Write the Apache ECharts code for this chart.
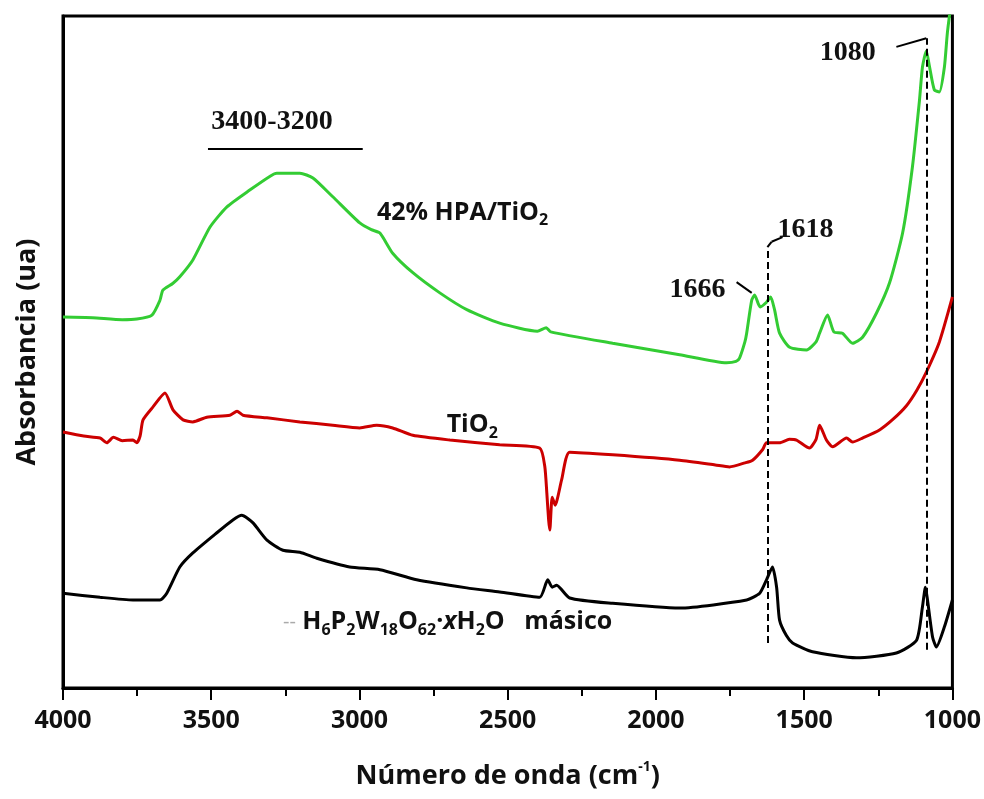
<!DOCTYPE html>
<html>
<head>
<meta charset="utf-8">
<script src="https://cdn.jsdelivr.net/npm/echarts@6/dist/echarts.min.js"></script>
<style>
  html, body { margin: 0; padding: 0; background: #fff; }
  #main { width: 984px; height: 799px; }
</style>
</head>
<body>
<div id="main"></div>
<script>
// [wavenumber cm-1, absorbance (arbitrary, 0-100 of the frame height)]
var hpaTiO2 = [[4000,55.2],[3900,55.1],[3800,54.8],[3751,54.9],[3700,55.5],[3673,57.7],[3663,59.2],[3630,60.2],[3606,61.2],[3562,63.7],[3504,68.6],[3447,71.6],[3370,74.1],[3300,76.2],[3279,76.6],[3201,76.6],[3157,75.9],[3090,73.1],[2999,69.2],[2960,68.2],[2931,67.7],[2888,64.7],[2820,61.8],[2729,58.8],[2638,56.3],[2527,54.3],[2400,53.1],[2370,53.6],[2355,53.0],[2146,51.3],[1920,49.6],[1762,48.4],[1730,48.6],[1718,49.1],[1700,51.5],[1694,52.8],[1677,57.7],[1667,58.5],[1655,57.2],[1648,56.7],[1627,57.4],[1613,58.2],[1600,56.3],[1583,52.8],[1549,50.7],[1492,50.3],[1460,51.5],[1448,52.8],[1421,55.5],[1400,53.0],[1371,52.8],[1337,51.3],[1303,52.2],[1256,55.8],[1212,60.3],[1168,67.7],[1135,77.5],[1111,87.5],[1101,92.4],[1088,94.8],[1077,92.4],[1061,89.0],[1044,88.7],[1027,92.4],[1017,97.5],[1003,102.4]];

var tio2 = [[4000,38.1],[3930,37.5],[3875,37.2],[3852,36.5],[3830,37.3],[3800,36.8],[3764,36.9],[3751,36.5],[3740,37.5],[3730,39.9],[3697,41.8],[3656,43.9],[3629,41.4],[3595,39.9],[3562,39.6],[3515,40.3],[3437,40.6],[3413,41.2],[3393,40.6],[3312,40.2],[3201,39.6],[3090,39.1],[2999,38.7],[2942,39.1],[2888,38.7],[2820,37.6],[2695,36.9],[2527,36.2],[2392,35.7],[2375,33.0],[2368,29.0],[2362,25.0],[2358,23.5],[2350,28.4],[2340,27.2],[2318,31.0],[2291,35.1],[2146,34.7],[1920,33.9],[1800,33.2],[1752,32.9],[1700,33.5],[1674,33.9],[1640,35.5],[1627,36.5],[1583,36.5],[1550,37.0],[1526,36.9],[1482,35.7],[1460,37.0],[1448,39.1],[1425,36.9],[1404,35.9],[1357,37.2],[1337,36.6],[1303,37.2],[1246,38.4],[1200,40.0],[1155,42.0],[1120,44.3],[1088,47.0],[1044,51.5],[1000,58.2]];

var hpaBulk = [[4000,14.1],[3875,13.5],[3764,13.1],[3673,13.1],[3650,14.1],[3606,18.0],[3562,20.1],[3481,23.1],[3427,25.0],[3397,25.7],[3360,24.6],[3312,22.0],[3258,20.5],[3201,20.2],[3144,19.3],[3033,18.0],[2931,17.6],[2807,16.1],[2638,14.9],[2527,14.3],[2392,13.5],[2365,16.1],[2350,15.0],[2335,15.3],[2291,13.4],[2146,12.6],[1920,11.9],[1694,13.1],[1650,14.1],[1627,16.1],[1607,18.0],[1593,15.0],[1583,10.1],[1560,7.8],[1539,6.7],[1472,5.4],[1324,4.5],[1189,5.2],[1121,7.1],[1101,12.1],[1091,15.0],[1084,13.1],[1067,7.6],[1054,6.1],[1027,9.1],[1000,13.1]];

var xTicks = [4000, 3500, 3000, 2500, 2000, 1500, 1000];

// dashed guide lines: [wavenumber, from, to]
var dashedGuides = [[1624, 6.7, 65.6], [1088, 5.7, 96.7]];
// solid leader segments and the band bar
var leaders = [
  [[1728, 60.4], [1677, 58.8]],
  [[1624, 65.6], [1610, 66.4]],
  [[1610, 66.4], [1573, 67.1]],
  [[1088, 96.7], [1189, 95.4]],
  [[3511, 80.2], [2989, 80.2]]
];
// peak labels: text, anchor [wavenumber, value], align
var peakLabels = [
  ['3400-3200', [3295, 84.2], 'center'],
  ['1666', [1765, 59.2], 'right'],
  ['1618', [1590, 68.2], 'left'],
  ['1080', [1259, 94.6], 'right']
];
var seriesLabels = [
  ['{a|42% HPA/TiO}{s|2}', [2941, 70.7]],
  ['{a|TiO}{s|2}', [2706, 39.1]],
  ['{g|--}{a| H}{s|6}{a|P}{s|2}{a|W}{s|18}{a|O}{s|62}{a|·}{i|x}{a|H}{s|2}{a|O   másico}', [3258, 9.8]]
];

var sans = '"Open Sans", "Liberation Sans", sans-serif';
var serif = '"Liberation Serif", "DejaVu Serif", serif';

var chart = echarts.init(document.getElementById('main'));

var guideData = dashedGuides.map(function (g) {
  return [{ coord: [g[0], g[1]] }, { coord: [g[0], g[2]] }];
});
var leaderData = leaders.map(function (s) {
  return [{ coord: s[0] }, { coord: s[1] }];
});

option = {
  animation: false,
  backgroundColor: '#fff',
  grid: {
    left: 63, right: 31, top: 16, bottom: 111,
    show: true, borderColor: '#000', borderWidth: 3
  },
  xAxis: {
    type: 'value',
    inverse: true,
    min: 1000, max: 4000, interval: 500,
    name: '{a|Número de onda (cm}{u|-1}{a|)}',
    nameLocation: 'middle',
    nameGap: 72,
    nameTextStyle: {
      rich: {
        a: { fontFamily: sans, fontWeight: 'bold', fontSize: 27, color: '#111', lineHeight: 32 },
        u: { fontFamily: sans, fontWeight: 'bold', fontSize: 14, color: '#111', lineHeight: 16, verticalAlign: 'top' }
      }
    },
    axisLine: { show: true, lineStyle: { color: '#000', width: 3 } },
    axisTick: { show: true, inside: false, length: 12, lineStyle: { width: 2, color: '#000' } },
    minorTick: { show: true, splitNumber: 2, length: 8, lineStyle: { width: 2, color: '#000' } },
    splitLine: { show: false },
    axisLabel: {
      margin: 20,
      fontFamily: sans, fontWeight: 'bold', fontSize: 25, color: '#111',
      formatter: function (v) { return xTicks.indexOf(v) >= 0 ? String(v) : ''; }
    }
  },
  yAxis: {
    type: 'value',
    min: 0, max: 100,
    name: 'Absorbancia (ua)',
    nameLocation: 'middle',
    nameGap: 22,
    nameRotate: 90,
    nameTextStyle: { fontFamily: sans, fontWeight: 'bold', fontSize: 27, color: '#111' },
    axisLine: { show: true, lineStyle: { color: '#000', width: 3 } },
    axisTick: { show: false },
    axisLabel: { show: false },
    splitLine: { show: false }
  },
  series: [
    {
      name: 'H6P2W18O62 másico', type: 'line', data: hpaBulk,
      showSymbol: false, smooth: 0.2,
      lineStyle: { color: '#000', width: 3 },
      markLine: {
        silent: true, symbol: 'none', label: { show: false },
        lineStyle: { color: '#000', width: 2, type: [7, 4] },
        data: guideData
      }
    },
    {
      name: 'TiO2', type: 'line', data: tio2,
      showSymbol: false, smooth: 0.2,
      lineStyle: { color: '#cc0000', width: 3 },
      markLine: {
        silent: true, symbol: 'none', label: { show: false },
        lineStyle: { color: '#000', width: 2, type: 'solid' },
        data: leaderData
      }
    },
    {
      name: '42% HPA/TiO2', type: 'line', data: hpaTiO2,
      showSymbol: false, smooth: 0.2,
      lineStyle: { color: '#33cc33', width: 3 }
    }
  ]
};

chart.setOption(option);

var richSans = {
  a: { fontFamily: sans, fontWeight: 'bold', fontSize: 25, fill: '#111', lineHeight: 32 },
  i: { fontFamily: sans, fontWeight: 'bold', fontStyle: 'italic', fontSize: 25, fill: '#111', lineHeight: 32 },
  s: { fontFamily: sans, fontWeight: 'bold', fontSize: 16, fill: '#111', lineHeight: 18, verticalAlign: 'bottom' },
  g: { fontFamily: sans, fontSize: 20, fill: '#aaa', lineHeight: 32 }
};

var graphics = [];
peakLabels.forEach(function (p) {
  var pt = chart.convertToPixel({ gridIndex: 0 }, p[1]);
  graphics.push({
    type: 'text', x: pt[0], y: pt[1], z: 10,
    style: {
      text: p[0], align: p[2], verticalAlign: 'middle',
      font: 'bold 28px ' + serif, fill: '#111'
    }
  });
});
seriesLabels.forEach(function (p) {
  var pt = chart.convertToPixel({ gridIndex: 0 }, p[1]);
  graphics.push({
    type: 'text', x: pt[0], y: pt[1], z: 10,
    style: { text: p[0], align: 'left', verticalAlign: 'middle', rich: richSans }
  });
});
chart.setOption({ graphic: graphics });
</script>
</body>
</html>
